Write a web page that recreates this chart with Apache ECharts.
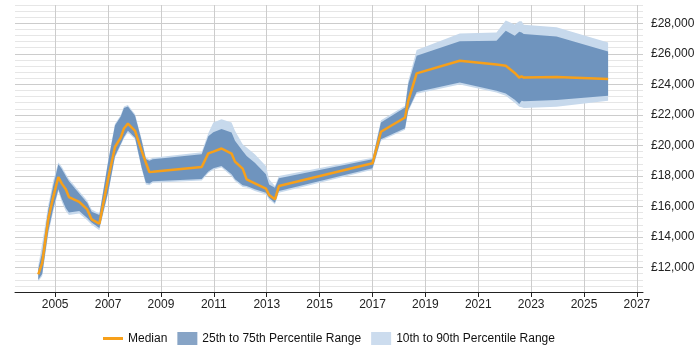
<!DOCTYPE html>
<html><head><meta charset="utf-8">
<script src="https://cdn.jsdelivr.net/npm/echarts@6/dist/echarts.min.js"></script>
<style>html,body{margin:0;padding:0;background:#fff}#c{width:700px;height:350px}</style>
</head><body><div id="c"></div>
<script>
const years = [2004.36, 2004.51, 2004.74, 2004.93, 2005.12, 2005.25, 2005.40, 2005.52, 2005.91, 2006.21,
  2006.38, 2006.67, 2007.01, 2007.26, 2007.48, 2007.60, 2007.75, 2008.02, 2008.27, 2008.43,
  2008.56, 2008.69, 2010.54, 2010.79, 2010.98, 2011.29, 2011.67, 2011.80, 2012.09, 2012.24,
  2012.55, 2012.97, 2013.09, 2013.31, 2013.46, 2017.00, 2017.32, 2018.23, 2018.35, 2018.67,
  2020.30, 2021.69, 2022.04, 2022.38, 2022.55, 2022.64, 2022.72, 2023.96, 2025.91];
const median = [11550, 12310, 15200, 16650, 17935, 17500, 17130, 16620, 16310, 15810,
  15155, 14870, 17890, 19900, 20510, 21110, 21430, 20960, 19640, 18870,
  18260, 18280, 18590, 19480, 19600, 19800, 19470, 18940, 18480, 17780,
  17520, 17170, 16750, 16470, 17340, 18830, 20900, 21830, 22900, 24720,
  25550, 25300, 25220, 24750, 24450, 24520, 24450, 24480, 24350];
const p25 = [11200, 11600, 14400, 15900, 17130, 16500, 15900, 15600, 15700, 15250,
  14950, 14600, 17000, 19300, 20100, 20560, 20960, 20500, 18550, 17560,
  17500, 17650, 17800, 18300, 18500, 18660, 18110, 17780, 17390, 17340,
  17130, 16900, 16570, 16240, 17010, 18510, 20400, 21130, 22300, 23500,
  24130, 23580, 23400, 23000, 22710, 22930, 22900, 22970, 23250];
const p75 = [11900, 13000, 15800, 17400, 18770, 18450, 18000, 17650, 16850, 16250,
  15650, 15450, 19000, 21300, 21900, 22450, 22550, 21950, 20300, 19120,
  19000, 19100, 19430, 20600, 20870, 21070, 20850, 20300, 19640, 19310,
  18870, 18110, 17450, 17230, 17850, 19100, 21500, 22490, 24000, 25880,
  26820, 26860, 27520, 27190, 27450, 27400, 27300, 27130, 26160];
const p10 = [11100, 11450, 14200, 15700, 17000, 16300, 15700, 15450, 15550, 15100,
  14800, 14450, 16900, 19200, 20000, 20450, 20850, 20400, 18450, 17450,
  17400, 17550, 17700, 18200, 18400, 18550, 17990, 17670, 17280, 17250,
  17020, 16790, 16460, 16150, 16900, 18400, 20300, 21030, 22200, 23380,
  24000, 23470, 23250, 22800, 22530, 22500, 22450, 22530, 22930];
const p90 = [12100, 13600, 16100, 17700, 18880, 18600, 18150, 17800, 17000, 16400,
  15800, 15550, 19100, 21400, 22000, 22550, 22650, 22050, 20400, 19220,
  19100, 19200, 19550, 20800, 21500, 21720, 21500, 20960, 20080, 19860,
  19420, 18660, 17780, 17340, 18000, 19200, 21650, 22600, 24200, 26250,
  27340, 27400, 28180, 27920, 28130, 28130, 27900, 27740, 26750];
const xTickYears = [2005, 2007, 2009, 2011, 2013, 2015, 2017, 2019, 2021, 2023, 2025, 2027];
const NAME_MED = 'Median';
const NAME_IQR = '25th to 75th Percentile Range';
const NAME_IDR = '10th to 90th Percentile Range';

const FONT = '"Liberation Sans", Arial, sans-serif';
const DARK = '#6f94be', LIGHT = '#c7d9ec', ORANGE = '#f7a01a';

function pairs(vals) { return years.map((y, i) => [y, vals[i]]); }

function fmtMoney(v) {
  return '£' + String(v).replace(/\B(?=(\d{3})+(?!\d))/g, ',');
}

function bandSeries(name, lower, upper, color, z) {
  return {
    type: 'custom', name: name, z: z, silent: true,
    itemStyle: { color: color },
    encode: { x: 0, y: 1 },
    data: pairs(upper),
    renderItem: function (params, api) {
      if (params.dataIndex !== 0) return null;
      const pts = [];
      for (let i = 0; i < years.length; i++) pts.push(api.coord([years[i], upper[i]]));
      for (let i = years.length - 1; i >= 0; i--) pts.push(api.coord([years[i], lower[i]]));
      return { type: 'polygon', shape: { points: pts }, style: { fill: color, stroke: null } };
    }
  };
}

const chart = echarts.init(document.getElementById('c'), null, { renderer: 'canvas' });
chart.setOption({
  animation: false,
  grid: { left: 15, right: 57, top: 5, bottom: 58, containLabel: false },
  xAxis: {
    type: 'value', min: 2003.48, max: 2027.23,
    axisLine: { show: true, lineStyle: { color: '#222', width: 1 } },
    axisTick: { show: true, length: 5, lineStyle: { color: '#222' }, customValues: xTickYears },
    axisLabel: { customValues: xTickYears, color: '#222', fontSize: 12, fontFamily: FONT, margin: 7,
      formatter: v => String(Math.round(v)) },
    splitLine: { show: true, lineStyle: { color: '#cccccc', width: 1 } }
  },
  yAxis: {
    type: 'value', position: 'right', min: 10400, max: 29200, interval: 400,
    axisLine: { show: false }, axisTick: { show: false },
    axisLabel: { color: '#222', fontSize: 12, fontFamily: FONT, margin: 8,
      formatter: v => (v % 2000 === 0 ? fmtMoney(v) : '') },
    splitLine: { show: true, lineStyle: { color: ['#e6e6e6', '#e6e6e6', '#e6e6e6', '#e6e6e6', '#cccccc'], width: 1 } }
  },
  legend: {
    left: 98, top: 327, itemWidth: 20, itemHeight: 13, itemGap: 10,
    textStyle: { color: '#111', fontSize: 12, fontFamily: FONT },
    data: [
      { name: NAME_MED, icon: 'path://M0,0 L0,0 M0,13 L0,13 M0,5 L20,5 L20,8 L0,8 Z', itemStyle: { color: ORANGE } },
      { name: NAME_IQR, icon: 'rect', itemStyle: { color: '#87a4c6' } },
      { name: NAME_IDR, icon: 'rect', itemStyle: { color: '#ccdcee' } }
    ]
  },
  series: [
    bandSeries(NAME_IDR, p10, p90, LIGHT, 2),
    bandSeries(NAME_IQR, p25, p75, DARK, 3),
    { type: 'line', name: NAME_MED, data: pairs(median), symbol: 'none', showSymbol: false, z: 5,
      itemStyle: { color: ORANGE }, lineStyle: { color: ORANGE, width: 2.5 } }
  ]
});
</script></body></html>
